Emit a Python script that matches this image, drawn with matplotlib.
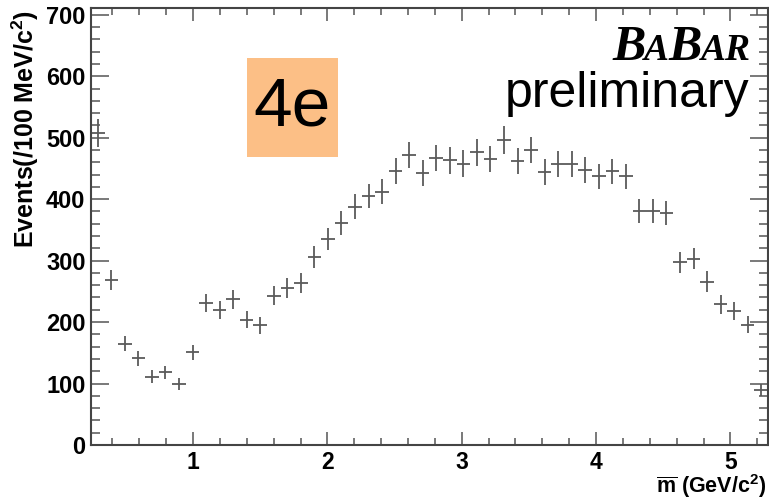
import numpy as np
import matplotlib
matplotlib.use("Agg")
import matplotlib.pyplot as plt
from matplotlib.ticker import MultipleLocator

plt.rcParams['font.family'] = ['Liberation Sans', 'DejaVu Sans']
plt.rcParams['mathtext.fontset'] = 'custom'
plt.rcParams['mathtext.rm'] = 'Liberation Sans'
plt.rcParams['mathtext.bf'] = 'Liberation Sans:bold'

# histogram range (GeV/c^2) and event counts per bin
x_lo, x_hi = 0.24, 5.28
counts = [508, 268, 165, 141, 111, 118, 99, 151, 231, 219,
          237, 204, 195, 243, 255, 264, 306, 335, 361, 388,
          405, 412, 446, 472, 442, 467, 463, 458, 476, 465,
          496, 462, 480, 444, 457, 457, 447, 437, 445, 437,
          380, 380, 378, 297, 303, 266, 229, 218, 196, 90]
x_ticks = [1, 2, 3, 4, 5]
y_ticks = [0, 100, 200, 300, 400, 500, 600, 700]

counts = np.array(counts, dtype=float)
edges = np.linspace(x_lo, x_hi, len(counts) + 1)
centers = 0.5 * (edges[:-1] + edges[1:])
half_w = 0.5 * (edges[1:] - edges[:-1])

W, H = 769, 501
fig = plt.figure(figsize=(W / 100, H / 100), dpi=100)
ax = fig.add_axes([91 / W, 1 - 445 / H, (768 - 91) / W, (445 - 8) / H])

ax.errorbar(centers, counts, xerr=half_w, yerr=np.sqrt(counts), fmt='none',
            ecolor='#5a5a5a', elinewidth=1.3, capsize=0)

ax.set_xlim(x_lo, x_hi)
ax.set_ylim(0, 711)
ax.set_xticks(x_ticks)
ax.set_yticks(y_ticks)
ax.xaxis.set_minor_locator(MultipleLocator(0.2))
ax.yaxis.set_minor_locator(MultipleLocator(20))

for sp in ax.spines.values():
    sp.set_color('#444444')
    sp.set_linewidth(1.5)

ax.tick_params(which='both', direction='in', top=True, right=True,
               color='#555555', width=1.1)
ax.tick_params(axis='y', which='major', length=13, pad=4, labelsize=17)
ax.tick_params(axis='y', which='minor', length=6.5)
ax.tick_params(axis='x', which='major', length=9.5, pad=4, labelsize=16.5)
ax.tick_params(axis='x', which='minor', length=5)
for lab in ax.get_xticklabels() + ax.get_yticklabels():
    lab.set_fontweight('bold')

fig.text(25 / W, 1 - 10 / H, r'Events(/100 MeV/c$^{\mathbf{2}}$)', rotation=90,
         ha='center', va='top', fontsize=18, fontweight='bold')
fig.text(766 / W, 1 - 493 / H, r'$\overline{\mathbf{m}}$ (GeV/c$^{\mathbf{2}}$)',
         ha='right', va='baseline', fontsize=15.5, fontweight='bold')

# label box
box = plt.Rectangle((247 / W, 1 - 157 / H), 91 / W, 99 / H, transform=fig.transFigure,
                    facecolor='#fcbf86', edgecolor='none', zorder=3)
fig.patches.append(box)
fig.text(292.5 / W, 1 - 107.5 / H, '4e', ha='center', va='center', fontsize=50,
         color='black', zorder=4)

# experiment logo with small caps
renderer = fig.canvas.get_renderer()
pieces = [('B', 36), ('A', 27), ('B', 36), ('AR', 27)]
x_px = 612
for s, size in pieces:
    t = fig.text(x_px / W, 1 - 60 / H, s, fontsize=size, family='Liberation Serif',
                 fontweight='bold', fontstyle='italic', va='baseline')
    x_px += t.get_window_extent(renderer).width - 1

fig.text(749 / W, 1 - 107 / H, 'preliminary', ha='right', va='baseline', fontsize=36)

fig.savefig('out.png', dpi=100)
